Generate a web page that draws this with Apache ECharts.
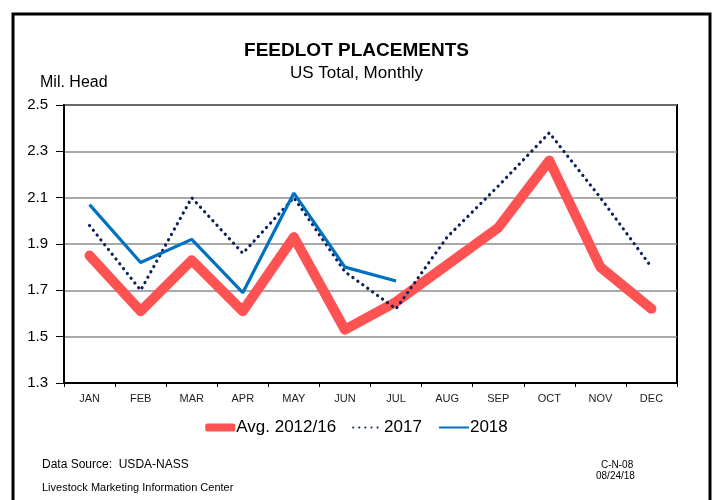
<!DOCTYPE html>
<html>
<head>
<meta charset="utf-8">
<script src="https://cdn.jsdelivr.net/npm/echarts@6/dist/echarts.min.js"></script>
<style>
  html, body { margin: 0; padding: 0; background: #fff; }
  #main { width: 713px; height: 500px; }
</style>
</head>
<body>
<div id="main"></div>
<script>
// data
var months = ["JAN", "FEB", "MAR", "APR", "MAY", "JUN", "JUL", "AUG", "SEP", "OCT", "NOV", "DEC"];
var avg1216 = [1.85, 1.61, 1.83, 1.61, 1.93, 1.53, 1.65, 1.81, 1.97, 2.26, 1.80, 1.62];
var y2017 = [1.98, 1.70, 2.10, 1.86, 2.10, 1.78, 1.62, 1.93, 2.15, 2.38, 2.10, 1.80];
var y2018 = [2.07, 1.82, 1.92, 1.69, 2.12, 1.80, 1.74];

var narrow = '"Liberation Sans Narrow", "Liberation Sans", Arial, sans-serif';

var chartDom = document.getElementById("main");
var myChart = echarts.init(chartDom);
var option;

option = {
  animation: false,
  backgroundColor: "#fff",
  title: [
    {
      text: "FEEDLOT PLACEMENTS",
      left: "center",
      top: 36,
      textStyle: { fontFamily: narrow, fontSize: 19, fontWeight: "bold", color: "#000" }
    },
    {
      text: "US Total, Monthly",
      left: "center",
      top: 60,
      textStyle: { fontFamily: narrow, fontSize: 17, fontWeight: "normal", color: "#000" }
    }
  ],
  graphic: [
    {
      type: "rect",
      shape: { x: 13, y: 14, width: 697, height: 500 },
      style: { fill: "none", stroke: "#000", lineWidth: 3 },
      silent: true
    },
    {
      type: "text", left: 40, top: 75,
      style: { text: "Mil. Head", font: "16px " + narrow, fill: "#000" }
    },
    {
      type: "text", left: 42, top: 459,
      style: { text: "Data Source:  USDA-NASS", font: "12px " + narrow, fill: "#000" }
    },
    {
      type: "text", left: 42, top: 482,
      style: { text: "Livestock Marketing Information Center", font: "11px " + narrow, fill: "#000" }
    },
    {
      type: "text", left: 601, top: 460,
      style: { text: "C-N-08", font: "10px Arial, sans-serif", fill: "#000" }
    },
    {
      type: "text", left: 596, top: 471,
      style: { text: "08/24/18", font: "10px Arial, sans-serif", fill: "#000" }
    }
  ],
  legend: {
    top: 414,
    left: "center",
    itemWidth: 30,
    itemHeight: 8,
    itemGap: 16,
    textStyle: { fontFamily: narrow, fontSize: 17, color: "#000", padding: [0, 0, 0, -4] },
    data: [
      { name: "Avg. 2012/16", icon: "roundRect" },
      { name: "2017", itemStyle: { opacity: 0 } },
      { name: "2018", itemStyle: { opacity: 0 } }
    ]
  },
  grid: {
    left: 64, right: 36, top: 105, bottom: 117,
    show: true, borderColor: "#000", borderWidth: 2
  },
  xAxis: {
    type: "category",
    data: months,
    boundaryGap: true,
    axisLine: { show: true, lineStyle: { color: "#000", width: 2 } },
    axisTick: { show: true, length: 4, lineStyle: { color: "#000" } },
    axisLabel: { fontFamily: narrow, fontSize: 11, color: "#222", margin: 10 },
    splitLine: { show: false }
  },
  yAxis: {
    type: "value",
    min: 1.3,
    max: 2.5,
    interval: 0.2,
    axisLine: { show: true, lineStyle: { color: "#000", width: 2 } },
    axisTick: { show: true, length: 8, lineStyle: { color: "#000" } },
    axisLabel: {
      fontFamily: narrow, fontSize: 15, color: "#000", margin: 16,
      formatter: function (v) { return v.toFixed(1); }
    },
    splitLine: { show: true, lineStyle: { color: "#8c8c8c", width: 1.5 } }
  },
  series: [
    {
      name: "Avg. 2012/16",
      type: "line",
      data: avg1216,
      symbol: "none",
      color: "#ff5252",
      lineStyle: { width: 10, color: "#ff5252", cap: "round", join: "round" },
      z: 2
    },
    {
      name: "2017",
      type: "line",
      data: y2017,
      symbol: "none",
      color: "#0b1f5c",
      lineStyle: { width: 3.2, color: "#0b1f5c", type: [0.1, 6], cap: "round" },
      z: 3
    },
    {
      name: "2018",
      type: "line",
      data: y2018,
      symbol: "none",
      color: "#0070c0",
      lineStyle: { width: 3.2, color: "#0070c0" },
      z: 4
    }
  ]
};

option && myChart.setOption(option);
</script>
</body>
</html>
